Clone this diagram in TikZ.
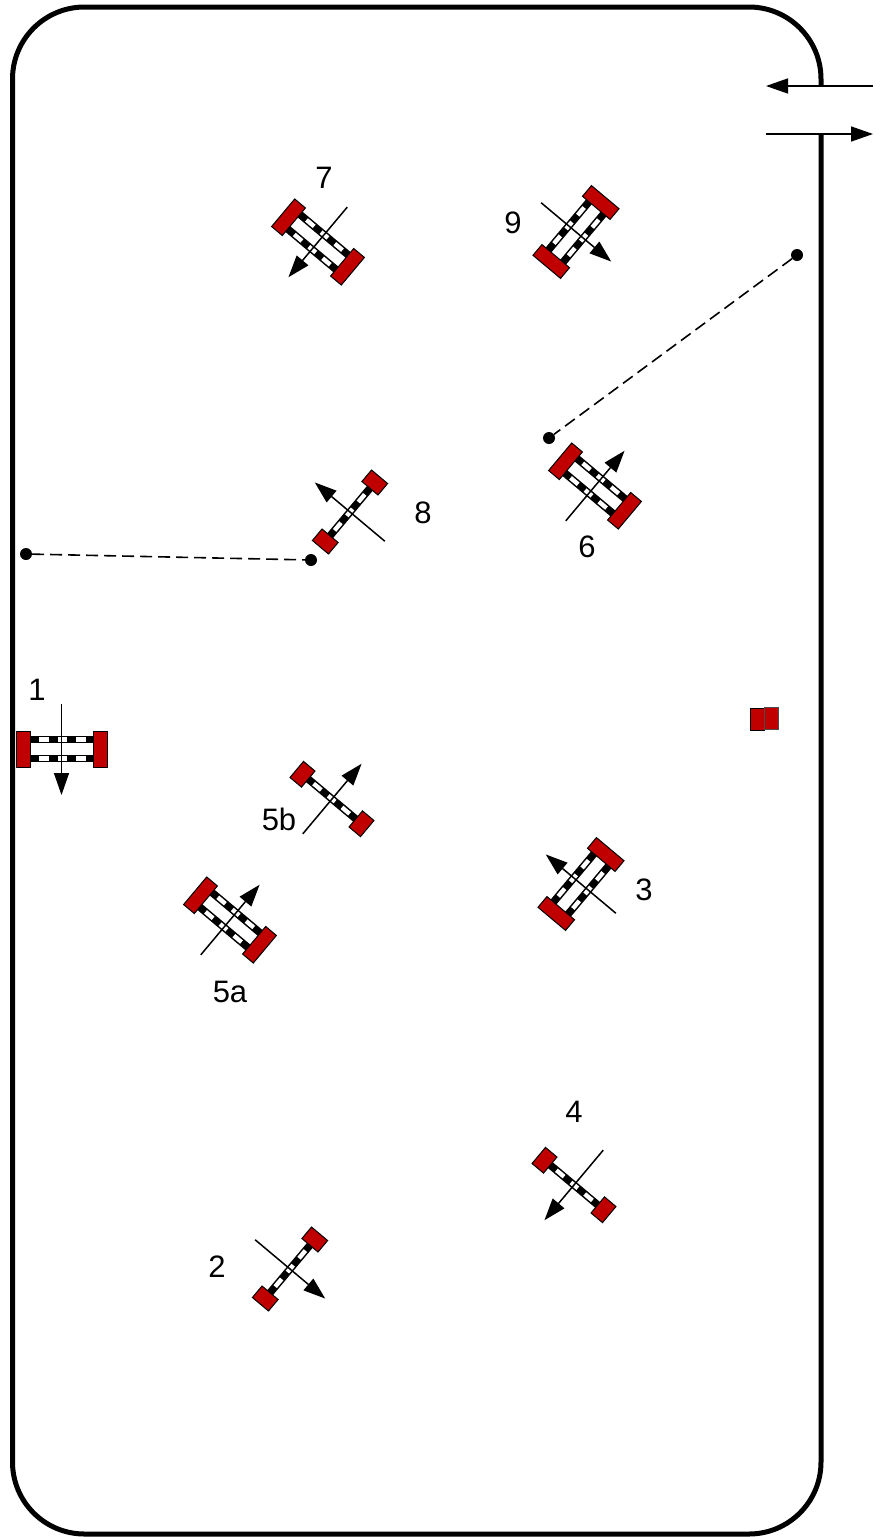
\documentclass[tikz,border=0pt]{standalone}
\usepackage{fontspec}
\setmainfont{Liberation Sans}
\usetikzlibrary{arrows.meta}
\definecolor{wheelred}{HTML}{C00000}
\tikzset{
  x=1pt,y=-1pt,
  wall/.style={line width=5pt,black,rounded corners=72pt},
  flow/.style={line width=1.5pt,black,-{Triangle[length=22pt,width=15pt]}},
  wheel/.style={fill=wheelred,draw=black,line width=1pt},
  axle/.style={line width=7.5pt,black},
  axlegap/.style={fill=white,draw=none},
  dotmark/.style={circle,fill=black,draw=none,minimum size=12pt,inner sep=0pt},
  pathline/.style={line width=1.6pt,black,dash pattern=on 12pt off 6pt},
  lbl/.style={font=\fontsize{31}{31}\selectfont,inner sep=0pt,text=black},
}
\newcommand{\axlebar}[1]{%
  \draw[axle] (-32,#1) -- (32,#1);
  \fill[axlegap] (-23,#1-2.2) rectangle (-13,#1+2.2);
  \fill[axlegap] (-4,#1-2.2) rectangle (5,#1+2.2);
  \fill[axlegap] (14,#1-2.2) rectangle (24,#1+2.2);
}
\newcommand{\carD}[3]{%
  \begin{scope}[shift={(#1,#2)},rotate=#3]
    \axlebar{-9.5}
    \axlebar{9.5}
    \draw[wheel] (-45.5,-18) rectangle (-31.5,18);
    \draw[wheel] (31.5,-18) rectangle (45.5,18);
    \draw[flow] (0,-45.5) -- (0,46);
  \end{scope}}
\newcommand{\carS}[3]{%
  \begin{scope}[shift={(#1,#2)},rotate=#3]
    \axlebar{0}
    \draw[wheel] (-46,-10.5) rectangle (-31,10.5);
    \draw[wheel] (31,-10.5) rectangle (46,10.5);
    \draw[flow] (0,-45.5) -- (0,46);
  \end{scope}}
\begin{document}
\begin{tikzpicture}
\useasboundingbox (0,0) rectangle (882,1537);
% wall
\draw[wall] (821,86) -- (821,7) -- (12.5,7) -- (12.5,1534) -- (821,1534) -- (821,135);
% gate arrows
\coordinate (inA) at (873,86);
\coordinate (inB) at (766,86);
\coordinate (outA) at (766,134);
\coordinate (outB) at (873,134);
\draw[flow] (inA) -- (inB);
\draw[flow] (outA) -- (outB);
% cars
\carD{61.5}{749}{0}
\carD{318}{242}{-40}
\carD{576}{232}{50}
\carD{595}{486}{140}
\carD{581}{884}{230}
\carD{230}{920}{140}
\carS{350}{512}{230}
\carS{332}{799}{140}
\carS{574}{1185}{-40}
\carS{290}{1269}{50}
% dashed tracks
\node[dotmark] (d1) at (26,554) {};
\node[dotmark] (d2) at (311,560) {};
\node[dotmark] (d3) at (797,255) {};
\node[dotmark] (d4) at (549,438) {};
\draw[pathline] (d1) -- (d2);
\draw[pathline] (d3) -- (d4);
% red square pair
\draw[fill=wheelred,draw=black,line width=1pt] (750.5,708.5) rectangle (764.5,730);
\draw[fill=wheelred,draw=black!70,line width=1pt] (764.5,707.5) rectangle (778,729.5);
% labels
\node[lbl] (l1) at (37,690) {1};
\node[lbl] (l2) at (217,1267) {2};
\node[lbl] (l3) at (644,890) {3};
\node[lbl] (l4) at (574,1112) {4};
\node[lbl] (l5a) at (230,992) {5a};
\node[lbl] (l5b) at (279,819) {5b};
\node[lbl] (l6) at (587,547) {6};
\node[lbl] (l7) at (324,178) {7};
\node[lbl] (l8) at (423,513) {8};
\node[lbl] (l9) at (513,223) {9};
\end{tikzpicture}
\end{document}
